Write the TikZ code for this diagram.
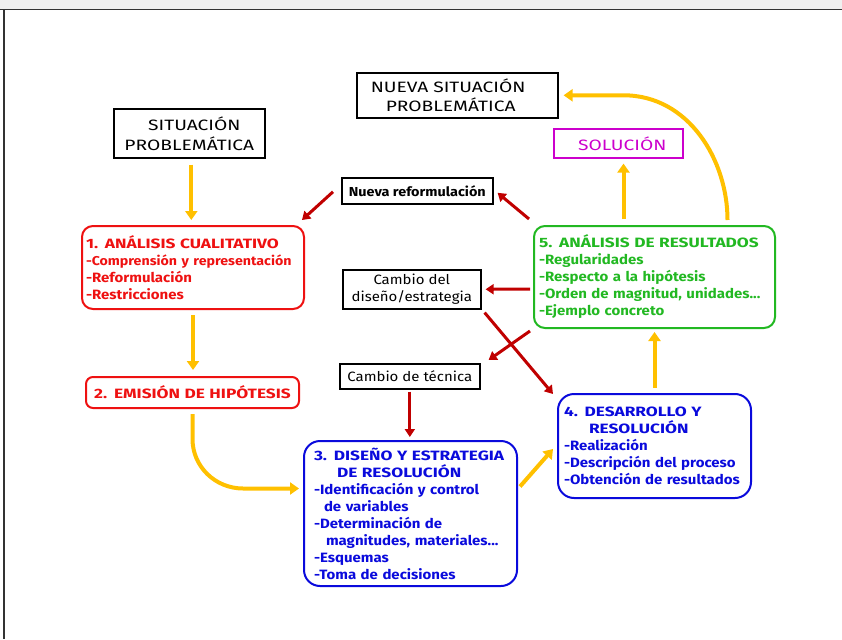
\documentclass[tikz,border=0pt]{standalone}
\usepackage{fontspec}
\setmainfont[FakeStretch=1.11]{Fira Sans}
\newfontfamily\capsf[FakeStretch=1.28]{Fira Sans}
\usetikzlibrary{arrows.meta,calc}
\definecolor{orng}{HTML}{FFC000}
\definecolor{dred}{HTML}{C00000}
\definecolor{bred}{HTML}{EE1111}
\definecolor{grn}{HTML}{22B822}
\definecolor{blu}{HTML}{0A0ADC}
\definecolor{mag}{HTML}{CC00CC}
\definecolor{frm}{HTML}{333333}
\hyphenpenalty=10000
\exhyphenpenalty=10000
\begin{document}
\begin{tikzpicture}[x=1pt,y=-1pt,
  bbox/.style={draw=black, line width=1.6pt, inner sep=0pt, anchor=north west, align=center},
  rbox/.style={draw, line width=2pt, rounded corners=11pt, anchor=north west, inner xsep=5pt, inner ysep=0pt,
     font=\bfseries\fontsize{13.5}{17}\selectfont, align=left},
  oarr/.style={draw=orng, line width=4pt, -{Triangle[length=9pt,width=12pt]}},
  rarr/.style={draw=dred, line width=3pt, -{Triangle[length=8pt,width=10pt]}}]
\useasboundingbox (0,0) rectangle (842,639);
\fill[black!6] (0,0) rectangle (842,9);
\draw[frm, line width=1.5pt] (0,9.5) -- (842,9.5);
\draw[frm, line width=1.5pt] (4,9.5) -- (4,639);

% black boxes
\node[bbox, minimum width=151pt, minimum height=49pt, font=\capsf\fontsize{15}{20}\selectfont] (sp) at (113,108)
  {\hspace*{10pt}SITUACIÓN\\PROBLEMÁTICA};
\node[bbox, minimum width=187pt, minimum height=45pt, font=\capsf\fontsize{15}{19}\selectfont, align=left,
  text width=173pt, inner xsep=14pt] (ns) at (356,72)
  {NUEVA SITUACIÓN\\\hspace*{15pt}PROBLEMÁTICA};
\node[bbox, draw=mag, text=mag, minimum width=129pt, minimum height=29pt, font=\capsf\fontsize{15}{19}\selectfont] (sol) at (553,128)
  {\hspace*{8pt}SOLUCIÓN};
\node[bbox, minimum width=151pt, minimum height=26pt, font=\bfseries\fontsize{13}{17}\selectfont] (nr) at (341,177)
  {Nueva reformulación};
\node[bbox, minimum width=138pt, minimum height=39pt, font=\fontsize{13.5}{17}\selectfont] (cd) at (342,269)
  {Cambio del\\diseño/estrategia};
\node[bbox, minimum width=140pt, minimum height=25pt, font=\fontsize{13.5}{17}\selectfont] (ct) at (339,363)
  {Cambio de técnica};

% coloured rounded boxes
\node[rbox, bred, inner xsep=4pt, text width=214pt, minimum height=83pt] (b1) at (81,225)
  {{\capsf 1. ANÁLISIS CUALITATIVO}\\\mbox{\fontsize{12.8}{17}\selectfont -Comprensión y representación}\\-Reformulación\\-Restricciones};
\node[rbox, bred, align=center, text width=203pt, minimum height=31pt, rounded corners=7pt] (b2) at (85,376)
  {\capsf 2. EMISIÓN DE HIPÓTESIS};
\node[rbox, grn, text width=231pt, minimum height=102pt] (b5) at (533,225)
  {{\capsf 5. ANÁLISIS DE RESULTADOS}\\-Regularidades\\-Respecto a la hipótesis\\-Orden de magnitud, unidades...\\-Ejemplo concreto};
\node[rbox, blu, inner xsep=10pt, text width=193pt, minimum height=145pt, rounded corners=16pt] (b3) at (303,440)
  {{\capsf 3. DISEÑO Y ESTRATEGIA}\\\hspace*{23pt}{\capsf DE RESOLUCIÓN}\\-Identificación y control\\\hspace*{10pt}de variables\\-Determinación de\\\hspace*{12pt}magnitudes, materiales...\\-Esquemas\\-Toma de decisiones};
\node[rbox, blu, inner xsep=6pt, text width=181pt, minimum height=104pt, rounded corners=16pt] (b4) at (557,393)
  {{\capsf 4. DESARROLLO Y}\\\hspace*{25pt}{\capsf RESOLUCIÓN}\\-Realización\\-Descripción del proceso\\-Obtención de resultados};

% orange arrows
\draw[oarr, shorten <=6pt, shorten >=5pt] ([xshift=2pt]sp.south) -- ([xshift=2pt]sp.south |- b1.north);
\draw[oarr, shorten <=5pt, shorten >=6pt] (b1.south) -- (b1.south |- b2.north);
\draw[oarr, shorten <=5pt, shorten >=4pt] (b2.south) -- ++(0,30) to[out=-90,in=180] ($(b3.west)+(-60pt,25pt)$) -- ([yshift=25pt]b3.west);
\draw[oarr] ([shift={(2pt,27pt)}]b3.east) -- ([shift={(-4pt,-3pt)}]b4.west);
\draw[oarr, shorten <=5pt, shorten >=3pt] (b4.north) -- (b4.north |- b5.south);
\draw[oarr, shorten <=6pt, shorten >=5pt] ([xshift=-31pt]b5.north) -- ([xshift=-31pt]b5.north |- sol.south);
\draw[oarr, shorten <=5pt, shorten >=5pt] ([xshift=73pt]b5.north) to[out=90,in=0] ($(ns.east)+(65pt,0)$) -- (ns.east);

% red arrows
\draw[rarr] ([shift={(-4pt,6pt)}]b5.north west) -- ([shift={(4pt,-2pt)}]nr.east);
\draw[rarr] ([shift={(-8pt,-1pt)}]nr.west) -- ([shift={(-3pt,5pt)}]b1.north east);
\draw[rarr] ([shift={(-3pt,-12pt)}]b5.west) -- ([xshift=4pt]cd.east);
\draw[rarr] ([shift={(3pt,-3pt)}]cd.south east) -- ([shift={(-4pt,-1pt)}]b4.north west);
\draw[rarr] ([shift={(-3pt,-2pt)}]b5.south west) -- ([shift={(8pt,3pt)}]ct.north east);
\draw[rarr, shorten <=2pt, shorten >=3pt] (ct.south) -- (ct.south |- b3.north);
\end{tikzpicture}
\end{document}
